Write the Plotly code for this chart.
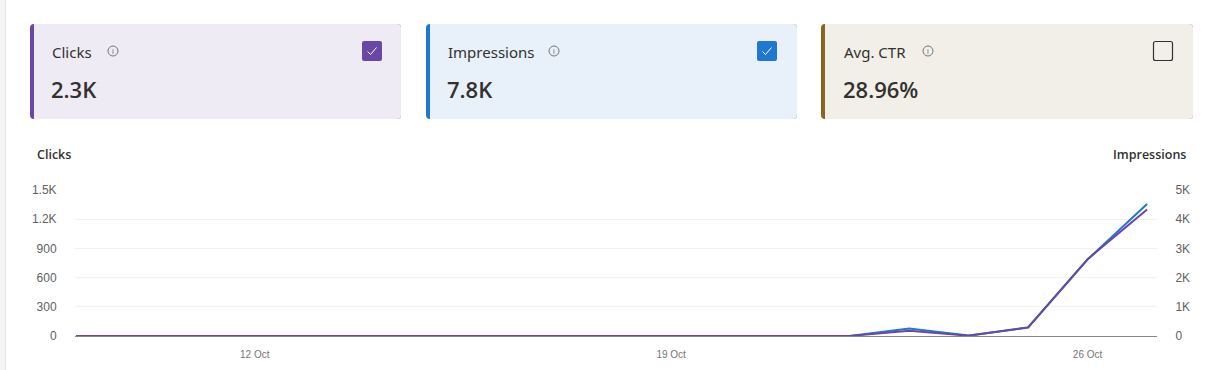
import plotly.graph_objects as go

# ---------------- data ----------------
dates = ["2024-10-%02d" % d for d in range(9, 28)]
clicks = [0, 0, 0, 0, 0, 0, 0, 0, 0, 0, 0, 0, 0, 0, 55, 3, 88, 790, 1300]
impressions = [0, 0, 0, 0, 0, 0, 0, 0, 0, 0, 0, 0, 0, 0, 260, 15, 290, 2620, 4520]
x_tick_vals = ["2024-10-12", "2024-10-19", "2024-10-26"]
x_tick_text = ["12 Oct", "19 Oct", "26 Oct"]
clicks_ticks = [0, 300, 600, 900, 1200, 1500]
clicks_tick_text = ["0", "300", "600", "900", "1.2K", "1.5K"]
impr_ticks = [0, 1000, 2000, 3000, 4000, 5000]
impr_tick_text = ["0", "1K", "2K", "3K", "4K", "5K"]

card_titles = ["Clicks", "Impressions", "Avg. CTR"]
card_values = ["2.3K", "7.8K", "28.96%"]
card_checked = [True, True, False]

# ---------------- layout geometry (pixels) ----------------
W, H = 1211, 370
L, R, T, B = 75, 54, 190, 34
PW, PH = W - L - R, H - T - B

def px(x):
    return (x - L) / PW

def py(y):
    return (H - B - y) / PH

CARD_FONT = "Noto Sans, Open Sans, sans-serif"
VALUE_FONT = "Open Sans, Noto Sans, sans-serif"
TICK_FONT = "Liberation Sans, Arial, sans-serif"

cards = [
    dict(x0=30, x1=401, bg="#EEEBF5", accent="#6B47A5", check_fill="#6B47A5", title_x=50, icon_x=113, box_x=362),
    dict(x0=426, x1=797, bg="#E8F0F9", accent="#1F77D0", check_fill="#1F77D0", title_x=446, icon_x=554, box_x=757),
    dict(x0=821, x1=1193, bg="#F2EFE8", accent="#8C6420", check_fill=None, title_x=842, icon_x=928, box_x=1153),
]

def rrect_path(x0, y0, x1, y1, r, left=True, right=True):
    X = px
    Y = py
    rl = r if left else 0
    rr = r if right else 0
    p = f"M {X(x0 + rl)},{Y(y0)} L {X(x1 - rr)},{Y(y0)} "
    if rr:
        p += f"Q {X(x1)},{Y(y0)} {X(x1)},{Y(y0 + rr)} "
    p += f"L {X(x1)},{Y(y1 - rr)} "
    if rr:
        p += f"Q {X(x1)},{Y(y1)} {X(x1 - rr)},{Y(y1)} "
    p += f"L {X(x0 + rl)},{Y(y1)} "
    if rl:
        p += f"Q {X(x0)},{Y(y1)} {X(x0)},{Y(y1 - rl)} "
    p += f"L {X(x0)},{Y(y0 + rl)} "
    if rl:
        p += f"Q {X(x0)},{Y(y0)} {X(x0 + rl)},{Y(y0)} "
    p += "Z"
    return p

shapes = []
annotations = []

# page left strip
shapes.append(dict(type="rect", xref="paper", yref="paper", x0=px(0), x1=px(5), y0=py(370), y1=py(0),
                   fillcolor="#F4F4F4", line=dict(width=0), layer="below"))
shapes.append(dict(type="line", xref="paper", yref="paper", x0=px(5.5), x1=px(5.5), y0=py(370), y1=py(0),
                   line=dict(color="#E6E6E6", width=1), layer="below"))

for i, c in enumerate(cards):
    y0, y1 = 24, 119
    shapes.append(dict(type="path", xref="paper", yref="paper", path=rrect_path(c["x0"], y0, c["x1"], y1, 4),
                       fillcolor=c["accent"], line=dict(width=0), layer="below"))
    shapes.append(dict(type="path", xref="paper", yref="paper",
                       path=rrect_path(c["x0"] + 4, y0, c["x1"], y1, 4, left=False, right=True),
                       fillcolor=c["bg"], line=dict(width=0), layer="below"))
    # title
    annotations.append(dict(xref="paper", yref="paper", x=px(c["title_x"]), y=py(51.5), xanchor="left", yanchor="middle",
                            text=card_titles[i], showarrow=False,
                            font=dict(family=CARD_FONT, size=15, color="#323130")))
    # value
    annotations.append(dict(xref="paper", yref="paper", x=px(c["title_x"] - 1), y=py(89), xanchor="left", yanchor="middle",
                            text=card_values[i], showarrow=False,
                            font=dict(family=VALUE_FONT, size=22, color="#323130", weight=600)))
    # info icon
    cx, cy, rad = c["icon_x"], 51, 5
    shapes.append(dict(type="circle", xref="paper", yref="paper", x0=px(cx - rad), x1=px(cx + rad),
                       y0=py(cy + rad), y1=py(cy - rad), line=dict(color="#767676", width=1), fillcolor="rgba(0,0,0,0)"))
    annotations.append(dict(xref="paper", yref="paper", x=px(cx), y=py(cy + 0.5), xanchor="center", yanchor="middle",
                            text="i", showarrow=False, font=dict(family=TICK_FONT, size=8, color="#767676")))
    # checkbox
    bx = c["box_x"]
    if c["check_fill"]:
        shapes.append(dict(type="path", xref="paper", yref="paper", path=rrect_path(bx, 41, bx + 20, 61, 2),
                           fillcolor=c["check_fill"], line=dict(width=0)))
        shapes.append(dict(type="path", xref="paper", yref="paper",
                           path=f"M {px(bx + 5.5)},{py(51.5)} L {px(bx + 8.5)},{py(54.5)} L {px(bx + 14.5)},{py(47.5)}",
                           line=dict(color="white", width=1)))
    else:
        shapes.append(dict(type="path", xref="paper", yref="paper", path=rrect_path(bx + 0.5, 41.5, bx + 19.5, 60.5, 2),
                           fillcolor="rgba(0,0,0,0)", line=dict(color="#323130", width=1.2)))

# chart axis titles
annotations.append(dict(xref="paper", yref="paper", x=px(35), y=py(154), xanchor="left", yanchor="middle",
                        text="Clicks", showarrow=False,
                        font=dict(family=VALUE_FONT, size=12.5, color="#323130", weight=600)))
annotations.append(dict(xref="paper", yref="paper", x=px(1188), y=py(154), xanchor="right", yanchor="middle",
                        text="Impressions", showarrow=False,
                        font=dict(family=VALUE_FONT, size=12.5, color="#323130", weight=600)))

fig = go.Figure()
# impressions on primary axis (drawn below), clicks on overlay axis (drawn above)
fig.add_trace(go.Scatter(x=dates, y=impressions, mode="lines", name="Impressions", yaxis="y",
                         line=dict(color="#1F77D0", width=2), hoverinfo="skip"))
fig.add_trace(go.Scatter(x=dates, y=clicks, mode="lines", name="Clicks", yaxis="y2",
                         line=dict(color="#6B47A5", width=2), hoverinfo="skip"))

fig.update_layout(
    width=W, height=H,
    margin=dict(l=L, r=R, t=T, b=B, pad=0, autoexpand=False),
    paper_bgcolor="white", plot_bgcolor="white",
    showlegend=False,
    shapes=shapes, annotations=annotations,
    xaxis=dict(type="date", range=["2024-10-08 23:30", "2024-10-27 04:00"], automargin=False,
               tickvals=x_tick_vals, ticktext=x_tick_text,
               showgrid=False, zeroline=False,
               showline=True, linecolor="#8A8886", linewidth=1,
               ticks="outside", ticklen=9, tickcolor="rgba(0,0,0,0)",
               tickfont=dict(family=TICK_FONT, size=10, color="#757575")),
    yaxis=dict(range=[0, 5000], side="right", tickvals=impr_ticks, ticktext=impr_tick_text, automargin=False,
               showgrid=True, gridcolor="#F3F2F1", gridwidth=1, zeroline=False,
               ticks="outside", ticklen=15, tickcolor="rgba(0,0,0,0)",
               tickfont=dict(family=TICK_FONT, size=12, color="#616161")),
    yaxis2=dict(range=[0, 1500], side="left", overlaying="y", tickvals=clicks_ticks, ticktext=clicks_tick_text,
                automargin=False, showgrid=False, zeroline=False,
                ticks="outside", ticklen=15, tickcolor="rgba(0,0,0,0)",
                tickfont=dict(family=TICK_FONT, size=12, color="#616161")),
)

fig.write_html("out.html", config={"displayModeBar": False},
               post_script="document.body.style.margin='0';")
